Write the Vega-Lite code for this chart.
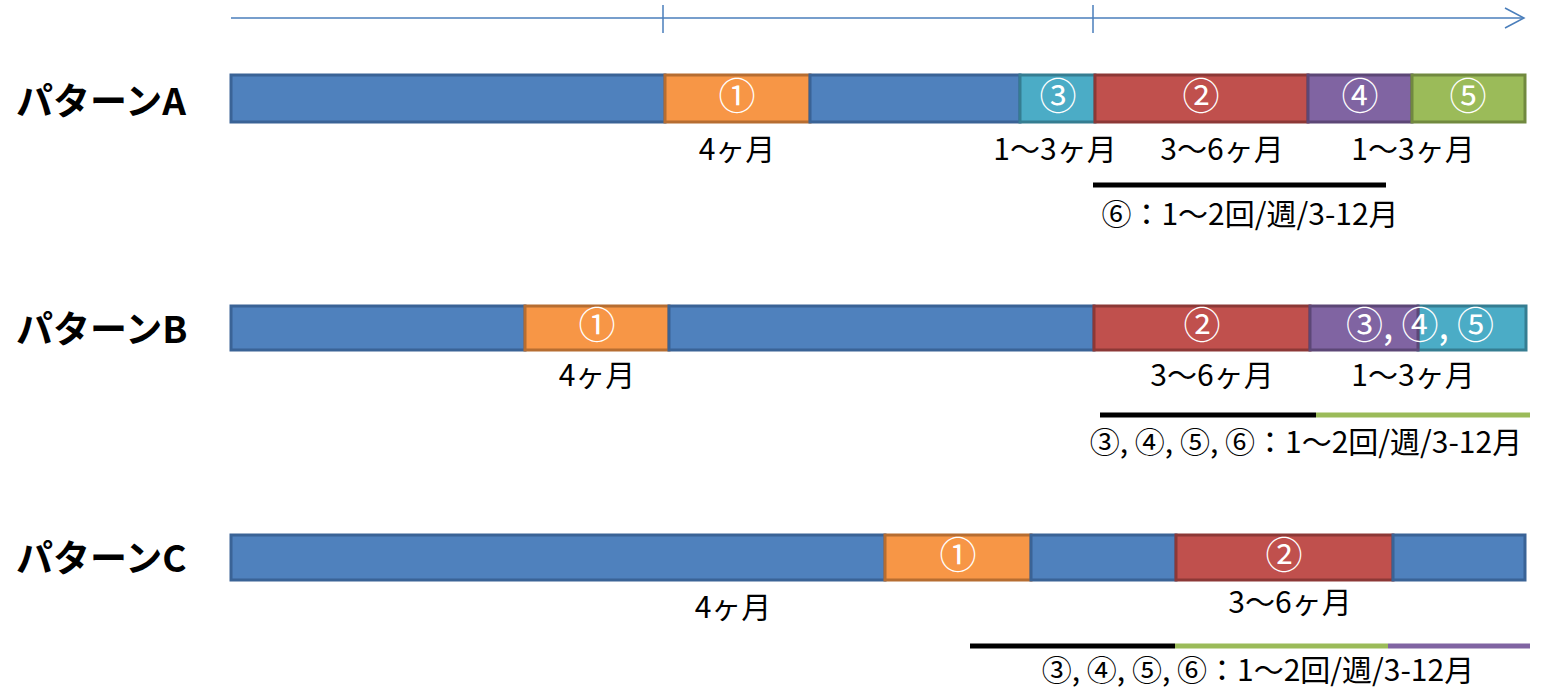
{
  "$schema": "https://vega.github.io/schema/vega-lite/v6.json",
  "autosize": {"type": "fit", "contains": "padding"},
  "width": 1555,
  "height": 694,
  "padding": 0,
  "background": "white",
  "config": {"view": {"stroke": null}},
  "datasets": {
    "segs": [
      {"row": "A", "kind": "base", "x": 231, "x2": 665, "y": 75, "y2": 122},
      {"row": "A", "kind": "s1", "x": 665, "x2": 810, "y": 75, "y2": 122},
      {"row": "A", "kind": "base", "x": 810, "x2": 1020, "y": 75, "y2": 122},
      {"row": "A", "kind": "s3", "x": 1020, "x2": 1095, "y": 75, "y2": 122},
      {"row": "A", "kind": "s2", "x": 1095, "x2": 1308, "y": 75, "y2": 122},
      {"row": "A", "kind": "s4", "x": 1308, "x2": 1412, "y": 75, "y2": 122},
      {"row": "A", "kind": "s5", "x": 1412, "x2": 1525, "y": 75, "y2": 122},
      {"row": "B", "kind": "base", "x": 231, "x2": 525, "y": 306, "y2": 350},
      {"row": "B", "kind": "s1", "x": 525, "x2": 669, "y": 306, "y2": 350},
      {"row": "B", "kind": "base", "x": 669, "x2": 1094, "y": 306, "y2": 350},
      {"row": "B", "kind": "s2", "x": 1094, "x2": 1310, "y": 306, "y2": 350},
      {"row": "B", "kind": "s3", "x": 1418, "x2": 1526, "y": 306, "y2": 350},
      {"row": "B", "kind": "s4", "x": 1310, "x2": 1418, "y": 306, "y2": 350},
      {"row": "C", "kind": "base", "x": 231, "x2": 885, "y": 535, "y2": 580},
      {"row": "C", "kind": "s1", "x": 885, "x2": 1031, "y": 535, "y2": 580},
      {"row": "C", "kind": "base", "x": 1031, "x2": 1176, "y": 535, "y2": 580},
      {"row": "C", "kind": "s2", "x": 1176, "x2": 1393, "y": 535, "y2": 580},
      {"row": "C", "kind": "base", "x": 1393, "x2": 1525, "y": 535, "y2": 580}
    ],
    "barText": [
      {"label": "①", "x": 737, "y": 99},
      {"label": "③", "x": 1058, "y": 99},
      {"label": "②", "x": 1201, "y": 99},
      {"label": "④", "x": 1360, "y": 99},
      {"label": "⑤", "x": 1468, "y": 99},
      {"label": "①", "x": 597, "y": 328},
      {"label": "②", "x": 1202, "y": 328},
      {"label": "③, ④, ⑤", "x": 1420, "y": 328},
      {"label": "①", "x": 958, "y": 558},
      {"label": "②", "x": 1284, "y": 558}
    ],
    "notes": [
      {"label": "4ヶ月", "x": 737, "y": 151},
      {"label": "1〜3ヶ月", "x": 1055, "y": 151},
      {"label": "3〜6ヶ月", "x": 1222, "y": 151},
      {"label": "1〜3ヶ月", "x": 1413, "y": 151},
      {"label": "⑥：1〜2回/週/3-12月", "x": 1250, "y": 216},
      {"label": "4ヶ月", "x": 597, "y": 377},
      {"label": "3〜6ヶ月", "x": 1212, "y": 377},
      {"label": "1〜3ヶ月", "x": 1413, "y": 377},
      {"label": "③, ④, ⑤, ⑥：1〜2回/週/3-12月", "x": 1306, "y": 444},
      {"label": "4ヶ月", "x": 733, "y": 609},
      {"label": "3〜6ヶ月", "x": 1290, "y": 604},
      {"label": "③, ④, ⑤, ⑥：1〜2回/週/3-12月", "x": 1258, "y": 672}
    ],
    "bands": [
      {"kind": "s6", "x": 1093, "x2": 1386, "y": 185},
      {"kind": "s6", "x": 1100, "x2": 1316, "y": 415},
      {"kind": "s5", "x": 1316, "x2": 1530, "y": 415},
      {"kind": "s6", "x": 970, "x2": 1175, "y": 646},
      {"kind": "s5", "x": 1175, "x2": 1388, "y": 646},
      {"kind": "s4", "x": 1388, "x2": 1530, "y": 646}
    ],
    "rows": [
      {"label": "パターンA", "x": 16, "y": 104},
      {"label": "パターンB", "x": 16, "y": 332},
      {"label": "パターンC", "x": 16, "y": 561}
    ],
    "axisLine": [
      {"x": 231, "x2": 1523, "y": 18, "y2": 18},
      {"x": 663, "x2": 663, "y": 5, "y2": 33},
      {"x": 1093, "x2": 1093, "y": 5, "y2": 33}
    ],
    "arrowHead": [
      {"i": 0, "x": 1505, "y": 8},
      {"i": 1, "x": 1524, "y": 18},
      {"i": 2, "x": 1505, "y": 28}
    ]
  },
  "layer": [
    {
      "data": {"name": "axisLine"},
      "mark": {"type": "rule", "color": "#4A7EBB", "strokeWidth": 1.5},
      "encoding": {
        "x": {"field": "x", "type": "quantitative", "scale": {"domain": [0, 1555], "nice": false, "zero": false}, "axis": null},
        "x2": {"field": "x2"},
        "y": {"field": "y", "type": "quantitative", "scale": {"domain": [0, 694], "nice": false, "zero": false, "reverse": true}, "axis": null},
        "y2": {"field": "y2"}
      }
    },
    {
      "data": {"name": "arrowHead"},
      "mark": {"type": "line", "color": "#4A7EBB", "strokeWidth": 1.5},
      "encoding": {
        "x": {"field": "x", "type": "quantitative"},
        "y": {"field": "y", "type": "quantitative"},
        "order": {"field": "i"}
      }
    },
    {
      "data": {"name": "segs"},
      "mark": {"type": "rect", "strokeWidth": 3},
      "encoding": {
        "x": {"field": "x", "type": "quantitative"},
        "x2": {"field": "x2"},
        "y": {"field": "y", "type": "quantitative"},
        "y2": {"field": "y2"},
        "fill": {"field": "kind", "type": "nominal", "legend": null,
          "scale": {"domain": ["base", "s1", "s2", "s3", "s4", "s5", "s6"], "range": ["#4F81BD", "#F79646", "#C0504D", "#4BACC6", "#8064A2", "#9BBB59", "#000000"]}},
        "stroke": {"field": "kind", "type": "nominal", "legend": null,
          "scale": {"domain": ["base", "s1", "s2", "s3", "s4", "s5", "s6"], "range": ["#3A6396", "#B66D31", "#8C3836", "#357D91", "#5C4776", "#71893F", "#000000"]}}
      }
    },
    {
      "data": {"name": "bands"},
      "mark": {"type": "rule", "strokeWidth": 5},
      "encoding": {
        "x": {"field": "x", "type": "quantitative"},
        "x2": {"field": "x2"},
        "y": {"field": "y", "type": "quantitative"},
        "color": {"field": "kind", "type": "nominal", "legend": null,
          "scale": {"domain": ["base", "s1", "s2", "s3", "s4", "s5", "s6"], "range": ["#4F81BD", "#F79646", "#C0504D", "#4BACC6", "#8064A2", "#9BBB59", "#000000"]}}
      }
    },
    {
      "data": {"name": "barText"},
      "mark": {"type": "text", "color": "white", "fontSize": 37, "font": "Noto Sans CJK JP", "align": "center", "baseline": "middle"},
      "encoding": {
        "x": {"field": "x", "type": "quantitative"},
        "y": {"field": "y", "type": "quantitative"},
        "text": {"field": "label"}
      }
    },
    {
      "data": {"name": "notes"},
      "mark": {"type": "text", "color": "black", "fontSize": 30, "font": "Noto Sans CJK JP", "align": "center", "baseline": "middle"},
      "encoding": {
        "x": {"field": "x", "type": "quantitative"},
        "y": {"field": "y", "type": "quantitative"},
        "text": {"field": "label"}
      }
    },
    {
      "data": {"name": "rows"},
      "mark": {"type": "text", "color": "black", "fontSize": 37, "fontWeight": "bold", "font": "Noto Sans CJK JP", "align": "left", "baseline": "middle"},
      "encoding": {
        "x": {"field": "x", "type": "quantitative"},
        "y": {"field": "y", "type": "quantitative"},
        "text": {"field": "label"}
      }
    }
  ]
}
